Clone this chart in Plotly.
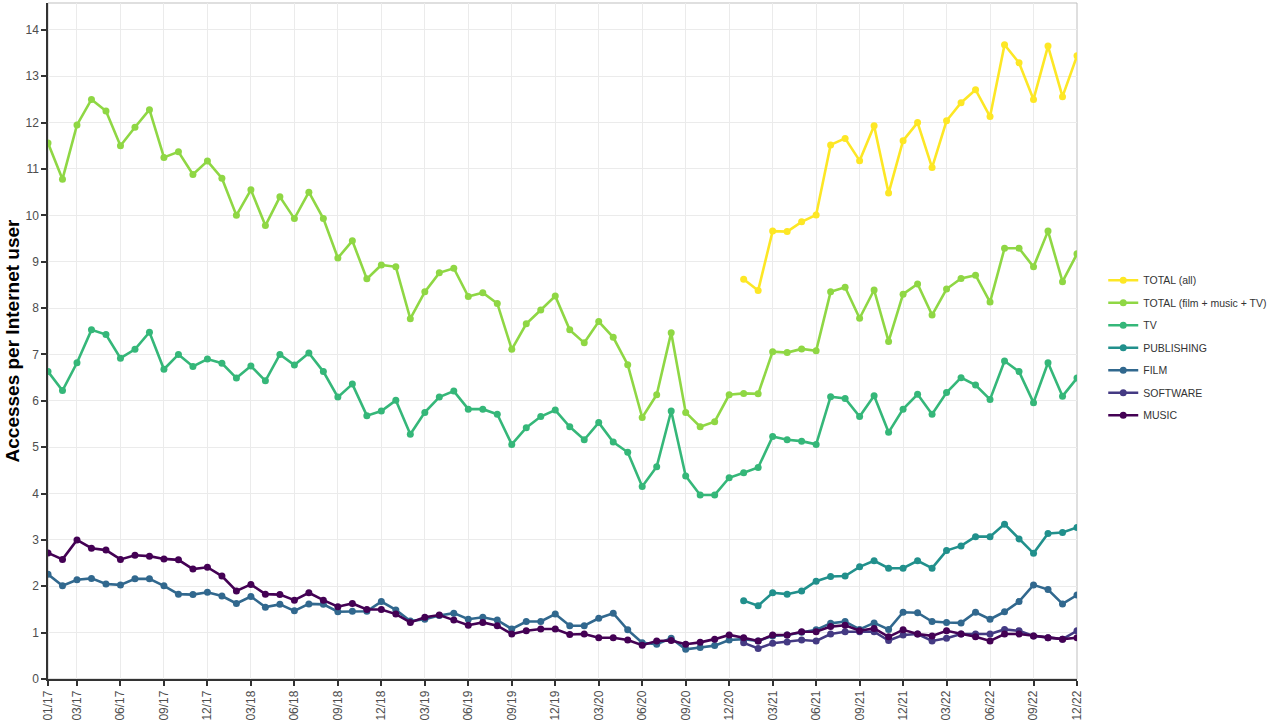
import plotly.graph_objects as go

# Monthly labels 01/17 .. 12/22
months = [f"{m:02d}/{y:02d}" for y in range(17, 23) for m in range(1, 13)]
tick_labels = ["01/17"] + [f"{m:02d}/{y:02d}" for y in range(17, 23) for m in (3, 6, 9, 12)]

total_ftm = [11.56, 10.78, 11.95, 12.5, 12.25, 11.5, 11.9, 12.28, 11.25, 11.37, 10.88, 11.17,
             10.8, 10.0, 10.55, 9.78, 10.4, 9.93, 10.5, 9.93, 9.08, 9.45, 8.63, 8.93,
             8.89, 7.77, 8.35, 8.76, 8.86, 8.25, 8.33, 8.10, 7.11, 7.66, 7.96, 8.26,
             7.53, 7.25, 7.71, 7.37, 6.78, 5.64, 6.13, 7.47, 5.75, 5.44, 5.55, 6.13,
             6.16, 6.15, 7.06, 7.04, 7.12, 7.08, 8.35, 8.45, 7.78, 8.39, 7.28, 8.30,
             8.52, 7.85, 8.41, 8.64, 8.71, 8.13, 9.29, 9.29, 8.89, 9.66, 8.57, 9.17]

tv = [6.63, 6.22, 6.82, 7.53, 7.43, 6.92, 7.11, 7.48, 6.68, 7.0, 6.74, 6.9,
      6.81, 6.49, 6.75, 6.43, 7.0, 6.77, 7.03, 6.63, 6.08, 6.36, 5.68, 5.78,
      6.01, 5.28, 5.75, 6.08, 6.21, 5.82, 5.82, 5.71, 5.06, 5.42, 5.66, 5.80,
      5.44, 5.16, 5.53, 5.11, 4.89, 4.15, 4.58, 5.78, 4.38, 3.97, 3.97, 4.34,
      4.45, 4.56, 5.23, 5.16, 5.13, 5.06, 6.09, 6.05, 5.66, 6.11, 5.32, 5.82,
      6.14, 5.71, 6.18, 6.50, 6.34, 6.03, 6.86, 6.63, 5.96, 6.82, 6.10, 6.49]

film = [2.26, 2.01, 2.14, 2.17, 2.05, 2.03, 2.16, 2.16, 2.01, 1.83, 1.82, 1.87,
        1.79, 1.63, 1.78, 1.55, 1.61, 1.47, 1.62, 1.61, 1.45, 1.46, 1.46, 1.67,
        1.49, 1.25, 1.29, 1.37, 1.42, 1.29, 1.33, 1.27, 1.08, 1.24, 1.24, 1.40,
        1.15, 1.15, 1.31, 1.42, 1.06, 0.78, 0.75, 0.88, 0.64, 0.68, 0.72, 0.84,
        0.86, 0.82, 0.93, 0.95, 1.01, 1.06, 1.20, 1.24, 1.07, 1.21, 1.07, 1.44,
        1.43, 1.24, 1.22, 1.21, 1.44, 1.29, 1.45, 1.67, 2.03, 1.93, 1.62, 1.81]

music = [2.72, 2.58, 3.0, 2.82, 2.78, 2.58, 2.67, 2.65, 2.59, 2.57, 2.37, 2.41,
         2.22, 1.90, 2.04, 1.83, 1.82, 1.70, 1.86, 1.70, 1.56, 1.63, 1.50, 1.50,
         1.40, 1.22, 1.33, 1.38, 1.27, 1.16, 1.22, 1.15, 0.97, 1.04, 1.08, 1.08,
         0.96, 0.97, 0.89, 0.89, 0.84, 0.73, 0.82, 0.83, 0.75, 0.79, 0.86, 0.95,
         0.89, 0.82, 0.95, 0.95, 1.02, 1.02, 1.13, 1.16, 1.04, 1.09, 0.91, 1.06,
         0.97, 0.93, 1.04, 0.97, 0.91, 0.82, 0.97, 0.97, 0.93, 0.89, 0.86, 0.89]

# Series that start in 01/21
late_start = "01/21"
total_all = [8.62, 8.38, 9.66, 9.65, 9.86, 10.01, 11.52, 11.66, 11.18, 11.93, 10.48, 11.61,
             12.0, 11.03, 12.04, 12.43, 12.71, 12.13, 13.68, 13.29, 12.50, 13.65, 12.56, 13.44]
publishing = [1.69, 1.58, 1.86, 1.83, 1.90, 2.11, 2.21, 2.22, 2.42, 2.55, 2.39, 2.39,
              2.55, 2.39, 2.77, 2.87, 3.07, 3.07, 3.34, 3.02, 2.71, 3.14, 3.16, 3.27]
software = [0.78, 0.66, 0.77, 0.80, 0.84, 0.82, 0.97, 1.02, 1.02, 1.02, 0.83, 0.95,
            0.97, 0.82, 0.88, 0.97, 0.97, 0.97, 1.07, 1.04, 0.93, 0.89, 0.86, 1.04]

s0 = months.index(late_start)
late_months = months[s0:]

series = [
    ("TOTAL (all)", late_months, total_all, "#FDE725"),
    ("TOTAL (film + music + TV)", months, total_ftm, "#8FD744"),
    ("TV", months, tv, "#35B779"),
    ("PUBLISHING", late_months, publishing, "#21908C"),
    ("FILM", months, film, "#31688E"),
    ("SOFTWARE", late_months, software, "#443A83"),
    ("MUSIC", months, music, "#440154"),
]

fig = go.Figure()
for k, (name, xs, ys, col) in enumerate(series):
    fig.add_trace(go.Scatter(
        x=xs, y=ys, name=name, mode="lines+markers",
        legendgroup=f"g{k}",
        line=dict(color=col, width=2.6),
        marker=dict(color=col, size=7),
    ))

fig.update_layout(
    width=1279, height=724,
    margin=dict(l=48, r=202, t=3, b=45),
    paper_bgcolor="white", plot_bgcolor="white",
    font=dict(family="Liberation Sans, Arial, sans-serif", color="#4d4d4d"),
    showlegend=True,
    legend=dict(
        x=1.0255, y=0.49, xanchor="left", yanchor="middle",
        traceorder="grouped",
        font=dict(size=10.5, color="#333333"),
        itemwidth=30, tracegroupgap=3.5,
        bgcolor="rgba(0,0,0,0)",
    ),
)

fig.update_xaxes(
    type="category", categoryorder="array", categoryarray=months,
    range=[0, len(months) - 1], automargin=False,
    tickmode="array", tickvals=tick_labels, ticktext=tick_labels,
    tickangle=-90, tickfont=dict(size=12, color="#4d4d4d"),
    ticks="outside", ticklen=5, tickwidth=1.5, tickcolor="#333333",
    showgrid=True, gridcolor="#ebebeb", gridwidth=1,
    showline=True, linecolor="#333333", linewidth=1.5,
    mirror=False, zeroline=False,
)
fig.update_yaxes(
    range=[0, 14.58], dtick=1, tick0=0, automargin=False,
    tickfont=dict(size=12, color="#4d4d4d"),
    ticks="outside", ticklen=5, tickwidth=1.5, tickcolor="#333333",
    showgrid=True, gridcolor="#ebebeb", gridwidth=1,
    showline=True, linecolor="#333333", linewidth=1.5,
    zeroline=False,
    title=dict(text="<b>Accesses per Internet user</b>", font=dict(size=19, color="black"), standoff=1),
)

# light panel border on top and right
fig.add_shape(type="rect", xref="paper", yref="paper", x0=0, y0=0, x1=1, y1=1,
              line=dict(color="#bfbfbf", width=1), layer="below")

fig.write_html("out.html", config={"displayModeBar": False},
               post_script="document.body.style.margin='0';")
